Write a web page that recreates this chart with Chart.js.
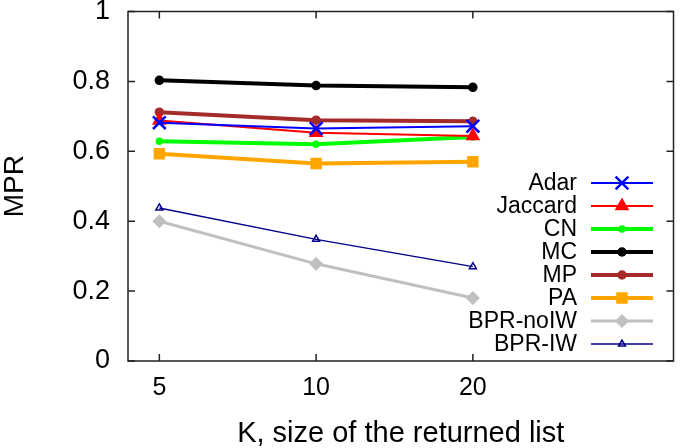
<!DOCTYPE html>
<html>
<head>
<meta charset="utf-8">
<script src="https://cdn.jsdelivr.net/npm/chart.js@4.4.0/dist/chart.umd.min.js"></script>
<style>
  html, body { margin: 0; padding: 0; background: #fff; }
  #wrap { position: relative; width: 685px; height: 448px; }
</style>
</head>
<body>
<div id="wrap"><canvas id="mpr"></canvas></div>
<script>
// K values shown on the x axis (drawn at evenly spaced positions)
const kLabels = ['5', '10', '20'];
const yTicks = [0, 0.2, 0.4, 0.6, 0.8, 1];

const adar = [0.682, 0.665, 0.672];
const jaccard = [0.688, 0.653, 0.644];
const cn = [0.629, 0.620, 0.641];
const mc = [0.803, 0.788, 0.783];
const mp = [0.712, 0.689, 0.686];
const pa = [0.593, 0.565, 0.570];
const bprNoIW = [0.400, 0.278, 0.180];
const bprIW = [0.438, 0.348, 0.270];

const FONT = 'Liberation Sans, Arial, Helvetica, sans-serif';

function series(label, values, color, width, style, radius, hollow) {
  return {
    label,
    data: values.map((v, i) => ({ x: i, y: v })),
    borderColor: color,
    backgroundColor: color,
    pointBackgroundColor: hollow ? 'rgba(0,0,0,0)' : color,
    pointBorderColor: color,
    borderWidth: width,
    pointStyle: style,
    pointRadius: radius,
    pointBorderWidth: style === 'crossRot' ? 2.5 : 1.5,
    tension: 0,
  };
}

const datasets = [
  series('Adar', adar, '#0000ff', 2, 'crossRot', 9),
  series('Jaccard', jaccard, '#ff0000', 2, 'triangle', 7),
  series('CN', cn, '#00ff00', 4, 'circle', 3),
  series('MC', mc, '#000000', 4, 'circle', 4),
  series('MP', mp, '#a52a2a', 4, 'circle', 4),
  series('PA', pa, '#ffa500', 4, 'rect', 7),
  series('BPR-noIW', bprNoIW, '#c0c0c0', 3, 'rectRot', 6),
  series('BPR-IW', bprIW, '#00008b', 1.5, 'triangle', 4, true),
];

// gnuplot-like frame with inward ticks on all four sides
const framePlugin = {
  id: 'frame',
  afterDraw(chart) {
    const { ctx, chartArea: a, scales } = chart;
    ctx.save();
    ctx.strokeStyle = '#222';
    ctx.lineWidth = 1.5;
    ctx.strokeRect(a.left, a.top, a.right - a.left, a.bottom - a.top);
    const t = 7;
    ctx.beginPath();
    yTicks.forEach(v => {
      const y = scales.y.getPixelForValue(v);
      ctx.moveTo(a.left, y); ctx.lineTo(a.left + t, y);
      ctx.moveTo(a.right, y); ctx.lineTo(a.right - t, y);
    });
    kLabels.forEach((_, i) => {
      const x = scales.x.getPixelForValue(i);
      ctx.moveTo(x, a.bottom); ctx.lineTo(x, a.bottom - t);
      ctx.moveTo(x, a.top); ctx.lineTo(x, a.top + t);
    });
    ctx.stroke();
    ctx.restore();
  }
};

// key inside the plot: right-aligned names with a line sample to the right
const keyPlugin = {
  id: 'key',
  afterDatasetsDraw(chart) {
    const { ctx } = chart;
    const textRight = 577, lineL = 591, lineR = 653, top = 183, step = 23;
    ctx.save();
    ctx.font = '23px ' + FONT;
    ctx.textAlign = 'right';
    ctx.textBaseline = 'middle';
    chart.data.datasets.forEach((ds, i) => {
      const y = top + i * step;
      ctx.fillStyle = '#000';
      ctx.fillText(ds.label, textRight, y + 1);
      ctx.strokeStyle = ds.borderColor;
      ctx.lineWidth = ds.borderWidth;
      ctx.beginPath();
      ctx.moveTo(lineL, y); ctx.lineTo(lineR, y);
      ctx.stroke();
      ctx.fillStyle = ds.pointBackgroundColor;
      ctx.strokeStyle = ds.pointBorderColor;
      ctx.lineWidth = ds.pointBorderWidth;
      Chart.helpers.drawPoint(ctx, {
        pointStyle: ds.pointStyle,
        radius: ds.pointRadius,
        borderWidth: ds.pointBorderWidth,
        rotation: 0,
      }, (lineL + lineR) / 2, y);
    });
    ctx.restore();
  }
};

new Chart(document.getElementById('mpr'), {
  type: 'line',
  data: { datasets },
  options: {
    responsive: true,
    maintainAspectRatio: false,
    animation: false,
    layout: { padding: { top: 11, right: 3, left: 0, bottom: 0 } },
    plugins: {
      legend: { display: false },
      tooltip: { enabled: false },
    },
    scales: {
      x: {
        type: 'linear',
        min: -0.2,
        max: 3.28,
        afterBuildTicks: s => { s.ticks = kLabels.map((_, i) => ({ value: i })); },
        afterFit: s => { s.height = 87; s.paddingLeft = 0; s.paddingRight = 0; },
        grid: { display: false, drawTicks: false },
        border: { display: false },
        ticks: {
          callback: v => kLabels[v],
          color: '#000',
          padding: 12,
          maxRotation: 0,
          font: { family: FONT, size: 25 },
        },
        title: {
          display: true,
          text: 'K, size of the returned list',
          color: '#000',
          padding: { top: 11, bottom: -3 },
          font: { family: FONT, size: 29 },
        },
      },
      y: {
        min: 0,
        max: 1,
        afterBuildTicks: s => { s.ticks = yTicks.map(v => ({ value: v })); },
        afterFit: s => { s.width = 128; s.paddingTop = 0; s.paddingBottom = 0; },
        grid: { display: false, drawTicks: false },
        border: { display: false },
        ticks: {
          callback: v => String(+v.toFixed(1)),
          color: '#000',
          padding: 18,
          font: { family: FONT, size: 27 },
        },
        title: {
          display: true,
          text: 'MPR',
          color: '#000',
          padding: { top: -2, bottom: 0 },
          font: { family: FONT, size: 28 },
        },
      },
    },
  },
  plugins: [framePlugin, keyPlugin],
});
</script>
</body>
</html>
